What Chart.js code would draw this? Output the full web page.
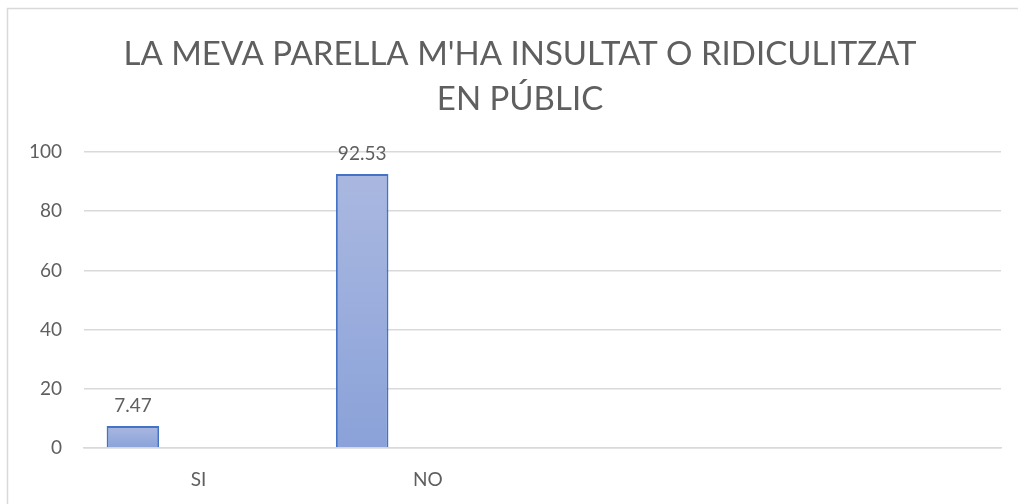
<!DOCTYPE html>
<html>
<head>
<meta charset="utf-8">
<script src="https://cdn.jsdelivr.net/npm/chart.js@4/dist/chart.umd.min.js"></script>
<style>
  html, body { margin: 0; padding: 0; background: #fff; }
  #wrap { width: 1018px; height: 504px; }
</style>
</head>
<body>
<div id="wrap"><canvas id="grafic" width="1018" height="504"></canvas></div>
<script>
// Dades
const titol = ["LA MEVA PARELLA M'HA INSULTAT O RIDICULITZAT", "EN PÚBLIC"];
const categories = ["SI", "NO", "", ""];
const valors = [7.47, 92.53, null, null];
const buides = [null, null, null, null];

const gris = "#5f5f5f";
const font = "Lato, 'Open Sans', sans-serif";

// Degradat per cada barra
function colorBarra(ctx) {
    const chart = ctx.chart;
    const y = chart.scales && chart.scales.y;
    if (!chart.chartArea || !y || ctx.raw == null) return "#9aaddc";
    const top = y.getPixelForValue(ctx.raw);
    const base = y.getPixelForValue(0);
    const g = chart.ctx.createLinearGradient(0, top, 0, base);
    g.addColorStop(0, "#aab8e0");
    g.addColorStop(1, "#8aa2d9");
    return g;
}

// Marc del gràfic + títol
const marc = {
    id: "marc",
    beforeDraw(chart) {
        const c = chart.ctx;
        c.save();
        c.strokeStyle = "#d9d9d9";
        c.lineWidth = 1.5;
        c.beginPath();
        c.moveTo(7.5, chart.height);
        c.lineTo(7.5, 8.5);
        c.lineTo(chart.width, 8.5);
        c.stroke();

        c.font = "33px " + font;
        c.fillStyle = gris;
        c.textAlign = "center";
        c.textBaseline = "middle";
        titol.forEach((t, i) => c.fillText(t, 520, 54 + i * 45));
        c.restore();
    }
};

// Etiquetes de dades
const etiquetes = {
    id: "etiquetes",
    afterDatasetsDraw(chart) {
        const c = chart.ctx;
        const meta = chart.getDatasetMeta(0);
        c.save();
        c.font = "19px " + font;
        c.fillStyle = gris;
        c.textAlign = "center";
        c.textBaseline = "middle";
        meta.data.forEach((bar, i) => {
            const v = valors[i];
            if (v == null) return;
            c.fillText(v.toFixed(2), bar.x, bar.y - 20);
        });
        c.restore();
    }
};

new Chart(document.getElementById("grafic"), {
    type: "bar",
    data: {
        labels: categories,
        datasets: [
            {
                data: valors,
                backgroundColor: colorBarra,
                borderColor: "#4472c4",
                borderWidth: 2,
                categoryPercentage: 0.86,
                barPercentage: 0.8
            },
            { data: buides, categoryPercentage: 0.86, barPercentage: 0.8 },
            { data: buides, categoryPercentage: 0.86, barPercentage: 0.8 }
        ]
    },
    options: {
        responsive: false,
        animation: false,
        devicePixelRatio: 1,
        layout: { padding: { left: 0, right: 17, top: 152, bottom: 0 } },
        plugins: {
            legend: { display: false },
            tooltip: { enabled: false },
            title: { display: false }
        },
        scales: {
            x: {
                grid: { display: false, drawTicks: false },
                border: { color: "#d9d9d9", width: 1.5 },
                ticks: { color: gris, font: { family: font, size: 19 }, padding: 20 },
                afterFit(s) { s.height = 56; }
            },
            y: {
                min: 0,
                max: 100,
                ticks: { stepSize: 20, color: gris, font: { family: font, size: 19 }, padding: 22 },
                grid: { color: "#d9d9d9", lineWidth: 1.5, drawTicks: false },
                border: { display: false },
                afterFit(s) { s.width = 84; }
            }
        }
    },
    plugins: [marc, etiquetes]
});
</script>
</body>
</html>
